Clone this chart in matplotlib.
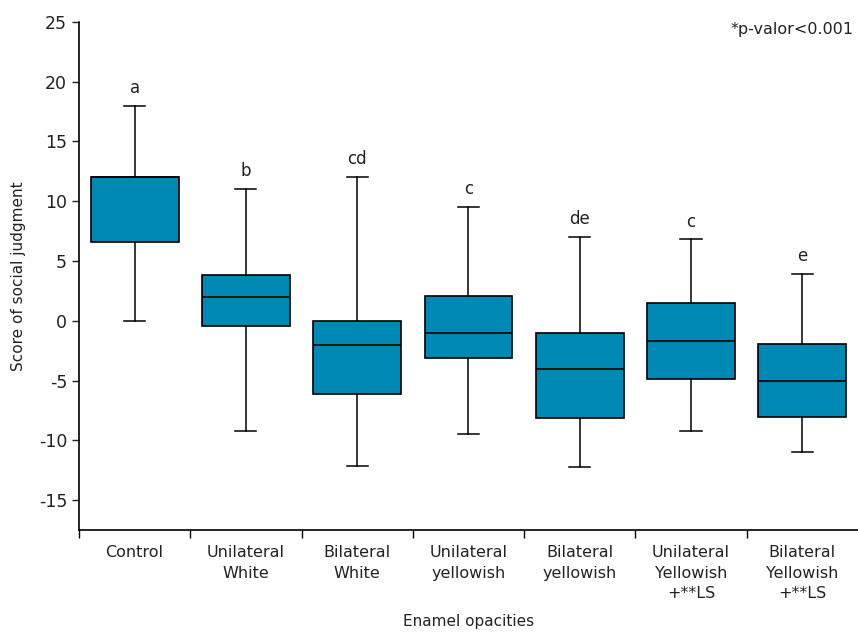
import matplotlib
matplotlib.use("Agg")
import matplotlib.pyplot as plt

plt.rcParams["axes.unicode_minus"] = False

# data
groups = ["Control", "Unilateral\nWhite", "Bilateral\nWhite", "Unilateral\nyellowish",
          "Bilateral\nyellowish", "Unilateral\nYellowish\n+**LS", "Bilateral\nYellowish\n+**LS"]
whisker_low = [0.0, -9.2, -12.1, -9.5, -12.2, -9.25, -11.0]
q1 = [6.6, -0.4, -6.1, -3.15, -8.1, -4.9, -8.05]
median = [12.0, 2.0, -2.0, -1.05, -4.0, -1.7, -5.05]
q3 = [12.0, 3.8, 0.0, 2.1, -1.05, 1.45, -1.9]
whisker_high = [18.0, 11.0, 12.0, 9.5, 7.0, 6.8, 3.9]
letters = ["a", "b", "cd", "c", "de", "c", "e"]

box_color = "#0088b5"

fig = plt.figure(figsize=(8.58, 6.41), dpi=100)
ax = fig.add_axes([0.092, 0.173, 0.908, 0.793])

stats = []
for i in range(len(groups)):
    stats.append(dict(whislo=whisker_low[i], q1=q1[i], med=median[i],
                      q3=q3[i], whishi=whisker_high[i], fliers=[]))

ax.bxp(stats, positions=range(len(groups)), widths=0.79, patch_artist=True,
       showfliers=False,
       boxprops=dict(facecolor=box_color, edgecolor="black", linewidth=1.2),
       medianprops=dict(color="black", linewidth=1.2),
       whiskerprops=dict(color="black", linewidth=1.1),
       capprops=dict(color="black", linewidth=1.1), capwidths=0.19)

for i, lab in enumerate(letters):
    ax.text(i, whisker_high[i] + 1.5, lab, ha="center", va="center", fontsize=12, color="#222222")

ax.set_xlim(-0.5, 6.5)
ax.set_ylim(-17.5, 25)
ax.set_yticks(range(-15, 26, 5))
ax.tick_params(axis="y", labelsize=12.5, length=5, width=1, direction="out", colors="#222222")

ax.set_xticks(range(len(groups)))
ax.set_xticklabels(groups, fontsize=11.5, color="#222222", linespacing=1.45)
ax.tick_params(axis="x", length=0, pad=11)
ax.set_xticks([i - 0.5 for i in range(len(groups))], minor=True)
ax.tick_params(axis="x", which="minor", length=6, width=1, direction="out")

ax.spines["top"].set_visible(False)
ax.spines["right"].set_visible(False)
ax.spines["left"].set_linewidth(1.2)
ax.spines["bottom"].set_linewidth(1.2)

ax.set_ylabel("Score of social judgment", fontsize=11, color="#222222", labelpad=9)
ax.set_xlabel("Enamel opacities", fontsize=11, color="#222222", labelpad=9)

ax.text(0.995, 0.985, "*p-valor<0.001", transform=ax.transAxes, ha="right", va="center",
        fontsize=11.5, color="#222222")

fig.savefig("out.png", dpi=100)
